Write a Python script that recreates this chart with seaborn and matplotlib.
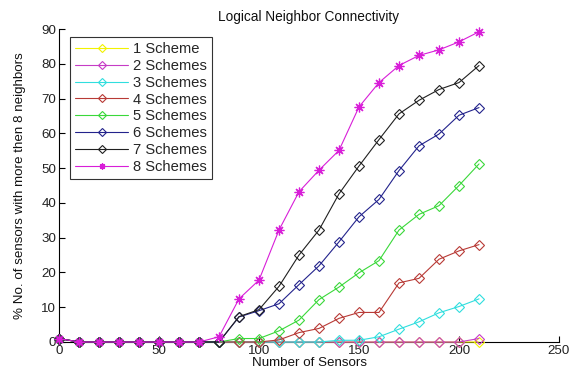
import numpy as np
import pandas as pd
import matplotlib
matplotlib.use("Agg")
import matplotlib.pyplot as plt
import seaborn as sns

# Number of sensors (x axis)
sensors = list(range(0, 220, 10))

# % of sensors with more than 8 logical neighbors, one list per scheme count
scheme1 = [1, 0, 0, 0, 0, 0, 0, 0, 0, 0, 0, 0, 0, 0, 0, 0, 0, 0, 0, 0, 0, 0]
scheme2 = [1, 0, 0, 0, 0, 0, 0, 0, 0, 0, 0, 0, 0, 0, 0, 0, 0, 0, 0, 0, 0, 1]
scheme3 = [1, 0, 0, 0, 0, 0, 0, 0, 0, 0, 0, 0, 0, 0, 0.5, 0.5, 1.5, 3.7, 5.8, 8.4, 10.2, 12.4]
scheme4 = [1, 0, 0, 0, 0, 0, 0, 0, 0, 0, 0, 0.6, 2.7, 3.9, 6.8, 8.5, 8.5, 17, 18.3, 23.8, 26.2, 28]
scheme5 = [1, 0, 0, 0, 0, 0, 0, 0, 0, 1, 1, 3.2, 6.3, 12.2, 15.8, 19.9, 23.4, 32.2, 36.7, 39.2, 45, 51.2]
scheme6 = [1, 0, 0, 0, 0, 0, 0, 0, 0, 7.2, 9, 11, 16.5, 21.9, 28.8, 36, 41, 49.3, 56.4, 59.8, 65.2, 67.4]
scheme7 = [1, 0, 0, 0, 0, 0, 0, 0, 0, 7.3, 9.3, 16, 25, 32.2, 42.6, 50.6, 58.2, 65.6, 69.5, 72.6, 74.6, 79.5]
scheme8 = [1, 0, 0, 0, 0, 0, 0, 0, 1.5, 12.4, 17.8, 32.2, 43.2, 49.4, 55.1, 67.6, 74.6, 79.5, 82.4, 84, 86.3, 89.2]

labels = ["1 Scheme", "2 Schemes", "3 Schemes", "4 Schemes",
          "5 Schemes", "6 Schemes", "7 Schemes", "8 Schemes"]
series = [scheme1, scheme2, scheme3, scheme4, scheme5, scheme6, scheme7, scheme8]

colors = ["#f2f200", "#c63cc6", "#30dede", "#b83a36",
          "#3ad83a", "#23238c", "#202020", "#d81ed8"]
markers = ["D", "D", "D", "D", "D", "D", "D", (8, 2, 0)]

sns.set_theme(style="white")
plt.rcParams["font.family"] = ["Liberation Sans", "DejaVu Sans"]
plt.rcParams["font.size"] = 9.6

fig = plt.figure(figsize=(5.8, 3.69), dpi=100)
ax = fig.add_axes([59 / 580, (369 - 342) / 369, 500 / 580, 313 / 369])

for vals, lab, col, mk in zip(series, labels, colors, markers):
    df = pd.DataFrame({"sensors": sensors, "pct": vals})
    is_star = not isinstance(mk, str)
    sns.lineplot(
        data=df, x="sensors", y="pct", ax=ax, label=lab, color=col,
        marker=mk, markersize=7 if is_star else 5,
        markerfacecolor=col if is_star else "none",
        markeredgecolor=col, markeredgewidth=0.9 if is_star else 0.8,
        linewidth=0.8, clip_on=False, zorder=3,
    )

ax.set_xlim(0, 250)
ax.set_ylim(0, 90)
ax.set_xticks([0, 50, 100, 150, 200, 250])
ax.set_yticks(range(0, 100, 10))
for side in ("top", "right"):
    ax.spines[side].set_visible(False)
for side in ("left", "bottom"):
    ax.spines[side].set_color("black")
    ax.spines[side].set_linewidth(0.8)
ax.tick_params(direction="in", length=4, width=0.8, colors="black",
               labelsize=9.6, labelcolor="#222222", pad=2,
               left=True, bottom=True)

ax.set_title("Logical Neighbor Connectivity", fontsize=9.8, color="#111111", pad=6)
ax.set_xlabel("Number of Sensors", fontsize=9.6, color="#111111", labelpad=0)
ax.set_ylabel("% No. of sensors with more then 8 neighbors", fontsize=9.6,
              color="#111111", labelpad=11)

leg = ax.legend(loc="upper left", bbox_to_anchor=(11 / 500, 1 - 8 / 313),
                frameon=True, fancybox=False, fontsize=10.6,
                handlelength=3.6, handletextpad=0.35, labelspacing=0.19,
                borderpad=0.35, borderaxespad=0.0)
leg.get_frame().set_edgecolor("black")
leg.get_frame().set_linewidth(0.8)
for h in leg.legend_handles:
    h.set_markersize(4.5)

fig.savefig("out.png", dpi=100)
